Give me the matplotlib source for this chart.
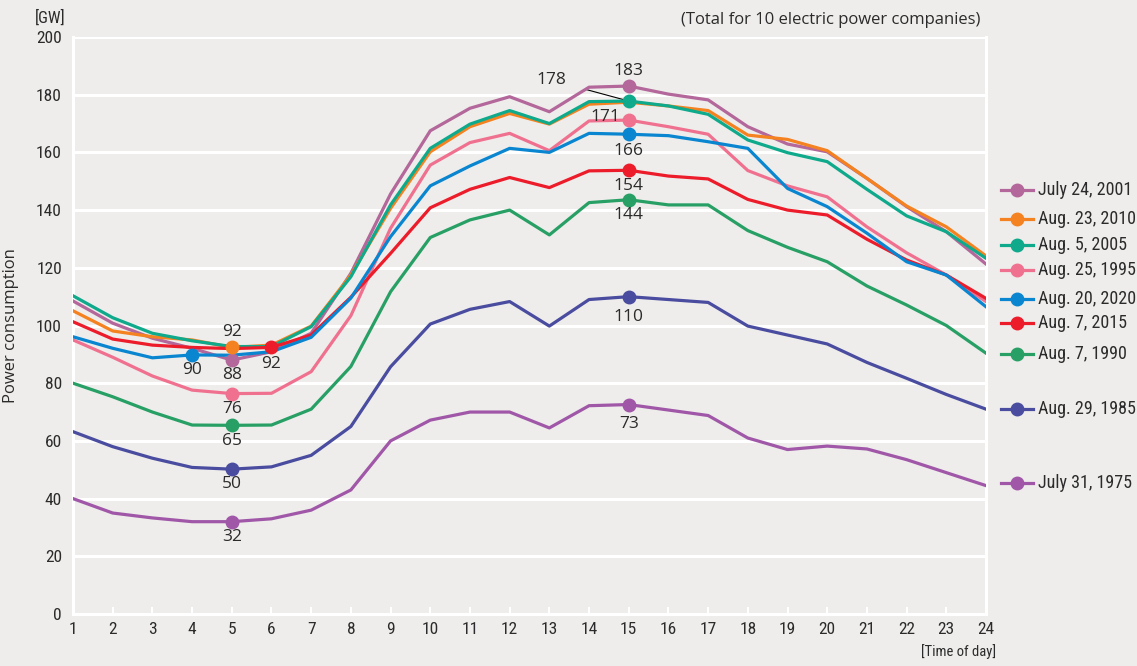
import matplotlib.pyplot as plt
from matplotlib.lines import Line2D
from matplotlib import font_manager
import numpy as np

# Data (GW), hourly
hours = np.arange(1, 25)

jul24_2001 = [108.5, 100.8, 95.6, 92.1, 88, 90.9, 97.3, 118.1, 145.6, 167.5, 175.3, 179.3,
              174.1, 182.6, 183, 180.2, 178.2, 168.9, 162.9, 160.2, 151, 141.2, 132.5, 121.3]
aug23_2010 = [105.1, 98.1, 96.1, 95, 92.4, 93.2, 99.8, 117.5, 140.6, 160.2, 168.9, 173.5,
              169.8, 176.7, 177.4, 176.1, 174.5, 166, 164.5, 160.6, 151, 141.4, 134.2, 124.1]
aug5_2005 = [110.3, 102.7, 97.3, 94.7, 92.7, 92.7, 99.6, 116.9, 141.8, 161.4, 169.8, 174.5,
             170, 177.6, 177.8, 176.1, 173.2, 164.3, 159.9, 156.8, 147.2, 138, 132.5, 123.3]
aug25_1995 = [95, 89, 82.5, 77.6, 76.4, 76.5, 84, 103.4, 133.7, 155.6, 163.4, 166.6,
              160.6, 170.9, 171.2, 168.9, 166.3, 153.7, 148.4, 144.6, 134.2, 125.2, 117.5, 108.3]
aug20_2020 = [96.1, 92.1, 88.8, 89.8, 89.7, 90.9, 95.9, 109.5, 130.8, 148.4, 155.3, 161.4,
              160, 166.6, 166.3, 165.8, 163.7, 161.4, 147.5, 141.2, 132, 122.1, 117.5, 106.5]
aug7_2015 = [101.3, 95.3, 93.2, 92.4, 92, 92.4, 96.7, 109.8, 125, 140.8, 147.2, 151.3,
             147.8, 153.6, 153.8, 151.8, 150.8, 143.7, 140, 138.3, 129.9, 122.7, 117.5, 109.4]
aug7_1990 = [80, 75.3, 70, 65.5, 65.4, 65.5, 71, 85.8, 111.7, 130.5, 136.6, 140,
             131.4, 142.6, 143.6, 141.8, 141.8, 132.9, 127.1, 122.1, 113.7, 107.1, 100, 90.4]
aug29_1985 = [63.2, 58, 54, 50.8, 50.2, 51, 55, 65, 85.7, 100.5, 105.6, 108.3,
              99.8, 109, 110, 109, 108, 99.8, 96.7, 93.6, 87.2, 81.7, 76.1, 71]
jul31_1975 = [40, 35, 33.3, 32, 32, 33, 36, 43, 60, 67.2, 70, 70,
              64.5, 72.2, 72.6, 70.7, 68.8, 61, 57, 58.2, 57.2, 53.5, 49, 44.5]

labels = ['July 24, 2001', 'Aug. 23, 2010', 'Aug. 5, 2005', 'Aug. 25, 1995', 'Aug. 20, 2020',
          'Aug. 7, 2015', 'Aug. 7, 1990', 'Aug. 29, 1985', 'July 31, 1975']
series = [jul24_2001, aug23_2010, aug5_2005, aug25_1995, aug20_2020,
          aug7_2015, aug7_1990, aug29_1985, jul31_1975]
colors = ['#B3679A', '#F58220', '#0FA98B', '#F0718F', '#0A86D0',
          '#EC1C2B', '#28A065', '#4A4CA0', '#A057A8']

# highlighted points: (series index, hour, label offset in points)
marks = [(0, 15, (0, 11)), (0, 5, (0, -11)),
         (1, 5, (0, 11)),
         (2, 15, None),
         (3, 15, (-17, 2)), (3, 5, (0, -11)),
         (4, 15, (0, -12)), (4, 4, (0, -11)),
         (5, 15, (0, -11)), (5, 6, (0, -12)),
         (6, 15, (0, -11)), (6, 5, (0, -11)),
         (7, 15, (0, -15)), (7, 5, (0, -11)),
         (8, 15, (0, -14)), (8, 5, (0, -11))]

bg = '#EEEDEB'
txt = '#2B2B2B'
names = {f.name for f in font_manager.fontManager.ttflist}
narrow = None
for cand in ['Liberation Sans Narrow', 'Roboto Condensed', 'Open Sans Condensed',
             'Noto Sans Condensed', 'DejaVu Sans Condensed']:
    if cand in names:
        narrow = cand
        break
if narrow is None:
    narrow = 'Liberation Sans'
    nscale = 0.9
else:
    nscale = 1.0
plt.rcParams['font.family'] = ['Open Sans', 'DejaVu Sans']

fig = plt.figure(figsize=(11.37, 6.66), dpi=100, facecolor=bg)
ax = fig.add_axes([73 / 1137, 52 / 666, 913 / 1137, 577 / 666], facecolor=bg)

ax.set_xlim(1, 24)
ax.set_ylim(0, 200)
ax.set_yticks(range(0, 201, 20))
ax.set_xticks(hours)
ax.grid(axis='y', color='white', linewidth=2.2, zorder=0)
ax.set_axisbelow(True)
ax.spines['top'].set_visible(False)
for s in ['left', 'right', 'bottom']:
    ax.spines[s].set_color('white')
    ax.spines[s].set_linewidth(2.2)
ax.tick_params(axis='y', length=0, pad=8, labelsize=12.5 * nscale, labelcolor=txt)
ax.tick_params(axis='x', direction='in', length=5, width=1.5, color='white',
               pad=6, labelsize=12.5 * nscale, labelcolor=txt)
for t in ax.get_xticklabels() + ax.get_yticklabels():
    t.set_family(narrow)

# draw lines, oldest at the bottom
order = [8, 7, 6, 3, 0, 1, 2, 5, 4]
for k, i in enumerate(order):
    ax.plot(hours, series[i], color=colors[i], linewidth=2.3, solid_joinstyle='round',
            zorder=3 + k * 0.01)

for i, h, off in marks:
    v = series[i][h - 1]
    ax.plot(h, v, 'o', color=colors[i], markersize=9, zorder=5)
    if off is not None:
        ax.annotate(f'{round(v)}', (h, v), xytext=off, textcoords='offset points',
                    ha='center', va='center', fontsize=12.5, color=txt, zorder=6)

# 178 with leader line
v = aug5_2005[14]
ax.annotate(f'{round(v)}', (15, v), xytext=(551 / 1137, 1 - 80 / 666),
            textcoords='figure fraction', ha='center', va='center',
            fontsize=12.5, color=txt,
            arrowprops=dict(arrowstyle='-', color='black', lw=0.8,
                            shrinkA=13, shrinkB=4))

ax.set_ylabel('Power consumption', fontsize=12, color=txt, labelpad=12)
fig.text(50 / 1137, 1 - 18 / 666, '[GW]', ha='center', va='center',
         fontsize=12 * nscale, color=txt, family=narrow)
fig.text(980 / 1137, 1 - 20 / 666, '(Total for 10 electric power companies)',
         ha='right', va='center', fontsize=12, color=txt)
fig.text(996 / 1137, 1 - 652 / 666, '[Time of day]', ha='right', va='center',
         fontsize=10.5 * nscale, color=txt, family=narrow)

# legend on the right
leg_y = [190, 219, 245, 270, 299, 323, 354, 409, 483]
for lab, c, y in zip(labels, colors, leg_y):
    yf = 1 - y / 666
    fig.add_artist(Line2D([1001 / 1137, 1033 / 1137], [yf, yf], color=c, linewidth=2.3,
                          transform=fig.transFigure))
    fig.add_artist(Line2D([1017 / 1137], [yf], color=c, marker='o', markersize=9,
                          linestyle='none', transform=fig.transFigure))
    fig.text(1038 / 1137, yf, lab, ha='left', va='center', fontsize=13 * nscale,
             color=txt, family=narrow)

fig.savefig('out.png', dpi=100, facecolor=bg)
